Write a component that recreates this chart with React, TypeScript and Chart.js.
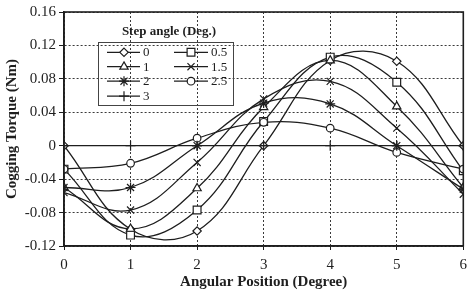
import React, { useEffect, useRef } from 'react';
import { Chart, registerables } from 'chart.js';

Chart.register(...registerables);

const positions = [0, 1, 2, 3, 4, 5, 6];
const stepAngles = ['0', '0.5', '1', '1.5', '2', '2.5', '3'];
const torque0 = [0.0, -0.1, -0.102, 0.0, 0.102, 0.101, 0.0];
const torque05 = [-0.028, -0.107, -0.077, 0.029, 0.106, 0.076, -0.03];
const torque1 = [-0.05, -0.0995, -0.051, 0.046, 0.102, 0.047, -0.05];
const torque15 = [-0.056, -0.077, -0.02, 0.056, 0.077, 0.021, -0.058];
const torque2 = [-0.05, -0.05, 0.0, 0.051, 0.05, 0.0, -0.052];
const torque25 = [-0.028, -0.021, 0.009, 0.028, 0.021, -0.008, -0.028];
const torque3 = [0, 0, 0, 0, 0, 0, 0];
const series = [torque0, torque05, torque1, torque15, torque2, torque25, torque3];
const markers = ['rectRot', 'rect', 'triangle', 'crossRot', 'star', 'circle', 'cross'];
const markerRadius = [4.2, 5.5, 4.8, 5, 5, 3.8, 5];
const legendTitle = 'Step angle (Deg.)';
const xTitle = 'Angular Position (Degree)';
const yTitle = 'Cogging Torque (Nm)';

const INK = '#1e1e1e';
const GRID = '#3a3a3a';
const SERIF = '"Liberation Serif", "Times New Roman", serif';

const frameAndLegend = {
  id: 'frameAndLegend',
  afterDatasetsDraw(chart: any) {
    const { ctx, chartArea } = chart;
    ctx.save();
    ctx.strokeStyle = INK;
    ctx.lineWidth = 1.6;
    ctx.setLineDash([]);
    ctx.strokeRect(chartArea.left, chartArea.top, chartArea.right - chartArea.left, chartArea.bottom - chartArea.top);
    ctx.restore();
  },
  afterDraw(chart: any) {
    const { ctx } = chart;
    ctx.save();
    ctx.fillStyle = INK;
    ctx.font = `bold 13px ${SERIF}`;
    ctx.textAlign = 'center';
    ctx.textBaseline = 'middle';
    ctx.fillText(legendTitle, 169, 32);
    ctx.strokeStyle = '#444';
    ctx.lineWidth = 1;
    ctx.strokeRect(98.5, 42.5, 135, 63);
    const order = [[0, 2, 4, 6], [1, 3, 5]];
    const cols = [
      { x0: 107, x1: 140, m: 124, t: 143 },
      { x0: 174, x1: 208, m: 191, t: 211 },
    ];
    const rows = [52.3, 66.7, 81.2, 96.2];
    ctx.font = `13px ${SERIF}`;
    ctx.textAlign = 'left';
    order.forEach((col, ci) => {
      col.forEach((si, ri) => {
        const c = cols[ci];
        const y = rows[ri];
        ctx.strokeStyle = INK;
        ctx.lineWidth = 1.3;
        ctx.beginPath();
        ctx.moveTo(c.x0, y);
        ctx.lineTo(c.x1, y);
        ctx.stroke();
        drawMarker(ctx, markers[si], markerRadius[si], c.m, y);
        ctx.fillStyle = INK;
        ctx.fillText(stepAngles[si], c.t, y + 0.5);
      });
    });
    ctx.restore();
  },
};

function drawMarker(ctx: CanvasRenderingContext2D, style: string, r: number, x: number, y: number) {
  ctx.save();
  ctx.strokeStyle = INK;
  ctx.fillStyle = '#ffffff';
  ctx.lineWidth = 1.2;
  ctx.beginPath();
  const s = Math.SQRT1_2 * r;
  switch (style) {
    case 'rectRot':
      ctx.moveTo(x, y - r);
      ctx.lineTo(x + r, y);
      ctx.lineTo(x, y + r);
      ctx.lineTo(x - r, y);
      ctx.closePath();
      ctx.fill();
      ctx.stroke();
      break;
    case 'rect':
      ctx.rect(x - s, y - s, 2 * s, 2 * s);
      ctx.fill();
      ctx.stroke();
      break;
    case 'triangle': {
      const h = r * 1.5;
      const e = (r * 3) / Math.sqrt(3);
      ctx.moveTo(x, y - (2 * h) / 3);
      ctx.lineTo(x + e / 2, y + h / 3);
      ctx.lineTo(x - e / 2, y + h / 3);
      ctx.closePath();
      ctx.fill();
      ctx.stroke();
      break;
    }
    case 'circle':
      ctx.arc(x, y, r, 0, Math.PI * 2);
      ctx.fill();
      ctx.stroke();
      break;
    case 'crossRot':
      ctx.moveTo(x - s, y - s);
      ctx.lineTo(x + s, y + s);
      ctx.moveTo(x + s, y - s);
      ctx.lineTo(x - s, y + s);
      ctx.stroke();
      break;
    case 'star':
      ctx.moveTo(x - s, y - s);
      ctx.lineTo(x + s, y + s);
      ctx.moveTo(x + s, y - s);
      ctx.lineTo(x - s, y + s);
      ctx.moveTo(x - r, y);
      ctx.lineTo(x + r, y);
      ctx.moveTo(x, y - r);
      ctx.lineTo(x, y + r);
      ctx.stroke();
      break;
    case 'cross':
      ctx.moveTo(x - r, y);
      ctx.lineTo(x + r, y);
      ctx.moveTo(x, y - r);
      ctx.lineTo(x, y + r);
      ctx.stroke();
      break;
  }
  ctx.restore();
}

export default function App() {
  const ref = useRef<HTMLCanvasElement>(null);
  useEffect(() => {
    if (!ref.current) return;
    const datasets = series.map((vals, i) => ({
      label: stepAngles[i],
      data: positions.map((p, j) => ({ x: p, y: vals[j] })),
      borderColor: INK,
      borderWidth: 1.3,
      backgroundColor: '#ffffff',
      pointStyle: markers[i] as any,
      pointRadius: markerRadius[i],
      pointBorderColor: INK,
      pointBackgroundColor: '#ffffff',
      pointBorderWidth: 1.2,
      tension: 0.4,
      fill: false,
    }));
    const chart = new Chart(ref.current, {
      type: 'line',
      data: { datasets: datasets.slice().reverse() as any },
      options: {
        animation: false,
        responsive: false,
        devicePixelRatio: 1,
        layout: { padding: { top: 11, right: 0, left: 0, bottom: 0 } },
        plugins: { legend: { display: false }, tooltip: { enabled: false } },
        scales: {
          x: {
            type: 'linear',
            min: 0,
            max: 6,
            ticks: { stepSize: 1, color: INK, font: { family: SERIF, size: 15 }, padding: 6 },
            grid: {
              color: GRID,
              lineWidth: 1,
              drawTicks: true,
              tickLength: 4,
              tickColor: INK,
              tickBorderDash: [],
            },
            border: { display: true, color: INK, width: 1.6, dash: [2, 2] },
            title: {
              display: true,
              text: xTitle,
              color: INK,
              font: { family: SERIF, size: 15, weight: 'bold' },
              padding: { top: 0, bottom: 3 },
            },
            afterFit: (scale: any) => {
              scale.height = 48;
              scale.paddingRight = 3;
            },
          },
          y: {
            type: 'linear',
            min: -0.12,
            max: 0.16,
            ticks: {
              stepSize: 0.04,
              color: INK,
              font: { family: SERIF, size: 15 },
              padding: 3,
              callback: (v: any) => {
                const r = Math.round(Number(v) * 100) / 100;
                return r === 0 ? '0' : r.toFixed(2);
              },
            },
            grid: {
              color: GRID,
              lineWidth: 1,
              drawTicks: true,
              tickLength: 5,
              tickColor: INK,
              tickBorderDash: [],
            },
            border: { display: true, color: INK, width: 1.6, dash: [2, 2] },
            title: {
              display: true,
              text: yTitle,
              color: INK,
              font: { family: SERIF, size: 15, weight: 'bold' },
              padding: { top: 3, bottom: 0 },
            },
            afterFit: (scale: any) => {
              scale.width = 64;
            },
          },
        },
      },
      plugins: [frameAndLegend],
    });
    return () => chart.destroy();
  }, []);
  return (
    <div style={{ position: 'absolute', left: 0, top: 0, width: 470, height: 294, background: '#fff' }}>
      <canvas ref={ref} width={470} height={294} style={{ display: 'block', width: 470, height: 294 }} />
    </div>
  );
}
